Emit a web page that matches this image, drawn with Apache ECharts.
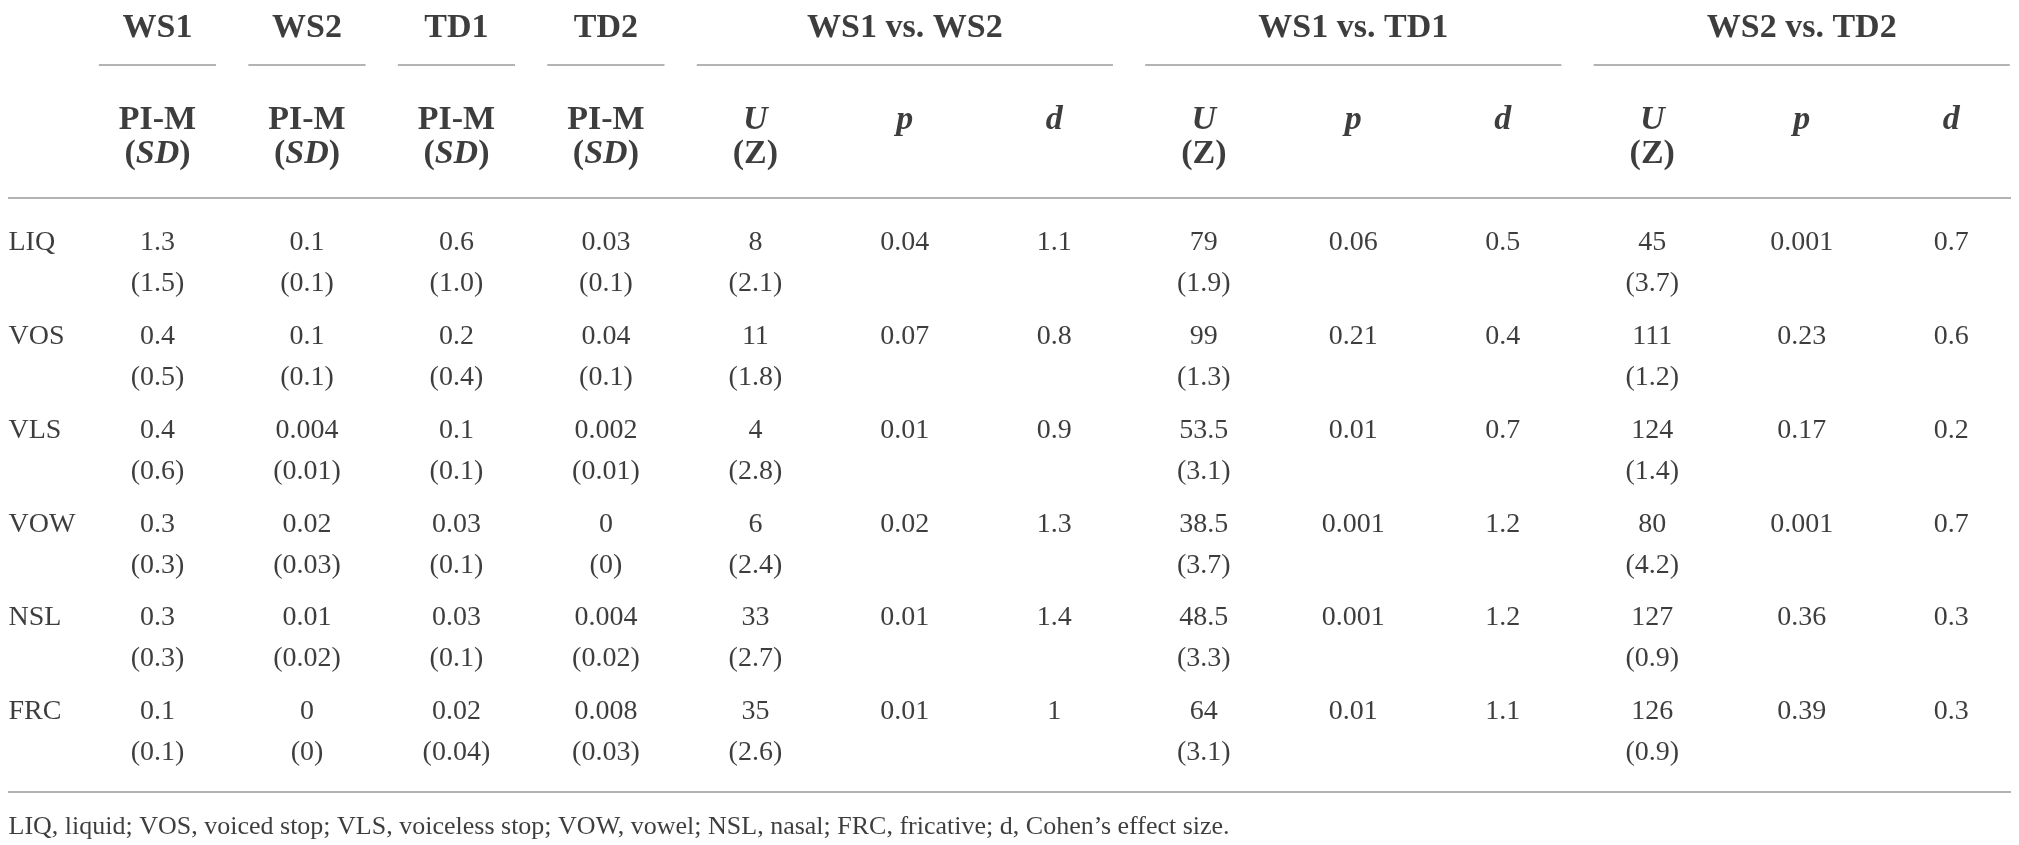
<!DOCTYPE html>
<html>
<head>
<meta charset="utf-8">
<script src="https://cdn.jsdelivr.net/npm/echarts@6/dist/echarts.min.js"></script>
<style>
    html, body { margin: 0; padding: 0; background: #fff; }
    #chart { width: 2019px; height: 845px; }
</style>
</head>
<body>
<div id="chart"></div>
<script>
// table content
const rowLabels = ['LIQ', 'VOS', 'VLS', 'VOW', 'NSL', 'FRC'];
const groupHeads = ['WS1', 'WS2', 'TD1', 'TD2'];
const compareHeads = ['WS1 vs. WS2', 'WS1 vs. TD1', 'WS2 vs. TD2'];

const ws1M = ['1.3', '0.4', '0.4', '0.3', '0.3', '0.1'];
const ws1SD = ['1.5', '0.5', '0.6', '0.3', '0.3', '0.1'];
const ws2M = ['0.1', '0.1', '0.004', '0.02', '0.01', '0'];
const ws2SD = ['0.1', '0.1', '0.01', '0.03', '0.02', '0'];
const td1M = ['0.6', '0.2', '0.1', '0.03', '0.03', '0.02'];
const td1SD = ['1.0', '0.4', '0.1', '0.1', '0.1', '0.04'];
const td2M = ['0.03', '0.04', '0.002', '0', '0.004', '0.008'];
const td2SD = ['0.1', '0.1', '0.01', '0', '0.02', '0.03'];

const ws1ws2U = ['8', '11', '4', '6', '33', '35'];
const ws1ws2Z = ['2.1', '1.8', '2.8', '2.4', '2.7', '2.6'];
const ws1ws2P = ['0.04', '0.07', '0.01', '0.02', '0.01', '0.01'];
const ws1ws2D = ['1.1', '0.8', '0.9', '1.3', '1.4', '1'];

const ws1td1U = ['79', '99', '53.5', '38.5', '48.5', '64'];
const ws1td1Z = ['1.9', '1.3', '3.1', '3.7', '3.3', '3.1'];
const ws1td1P = ['0.06', '0.21', '0.01', '0.001', '0.001', '0.01'];
const ws1td1D = ['0.5', '0.4', '0.7', '1.2', '1.2', '1.1'];

const ws2td2U = ['45', '111', '124', '80', '127', '126'];
const ws2td2Z = ['3.7', '1.2', '1.4', '4.2', '0.9', '0.9'];
const ws2td2P = ['0.001', '0.23', '0.17', '0.001', '0.36', '0.39'];
const ws2td2D = ['0.7', '0.6', '0.2', '0.7', '0.3', '0.3'];

const footnote = 'LIQ, liquid; VOS, voiced stop; VLS, voiceless stop; VOW, vowel; NSL, nasal; FRC, fricative; d, Cohen\u2019s effect size.';

// layout, in row units (one body row = 1)
const Y_HEAD = -2.29;
const Y_UNDER = -1.90;
const Y_SUB1 = -1.31;
const Y_SUB2 = -0.95;
const Y_RULE = -0.48;
const SD_OFF = 0.437;
const Y_BOTTOM = 5.853;
const Y_NOTE = 6.226;
const HALF_UNDER = 0.392;
const X_END = 13.4;

const FONT = '"Liberation Serif", "DejaVu Serif", serif';
const INK = '#0d0d0d';
const RULE = '#9a9a9a';

const groupM = [ws1M, ws2M, td1M, td2M];
const groupSD = [ws1SD, ws2SD, td1SD, td2SD];
const compare = [
    [ws1ws2U, ws1ws2Z, ws1ws2P, ws1ws2D],
    [ws1td1U, ws1td1Z, ws1td1P, ws1td1D],
    [ws2td2U, ws2td2Z, ws2td2P, ws2td2D]
];

const paren = v => `(${v})`;

// cells
const headCells = [];
const bodyCells = [];
const labelCells = [];

groupHeads.forEach((h, i) => {
    const col = i + 1;
    headCells.push([col, Y_HEAD, `{b|${h}}`]);
    headCells.push([col, Y_SUB1, '{b|PI-M}']);
    headCells.push([col, Y_SUB2, '{b|(}{bi|SD}{b|)}']);
});
compareHeads.forEach((h, i) => {
    const base = 5 + i * 3;
    headCells.push([base + 1, Y_HEAD, `{b|${h}}`]);
    headCells.push([base, Y_SUB1, '{bi|U}']);
    headCells.push([base, Y_SUB2, '{b|(Z)}']);
    headCells.push([base + 1, Y_SUB1, '{bi|p}']);
    headCells.push([base + 2, Y_SUB1, '{bi|d}']);
});

rowLabels.forEach((name, r) => {
    labelCells.push([0, r, name]);
    groupM.forEach((arr, i) => {
        bodyCells.push([i + 1, r, arr[r]]);
        bodyCells.push([i + 1, r + SD_OFF, paren(groupSD[i][r])]);
    });
    compare.forEach(([u, z, p, d], i) => {
        const base = 5 + i * 3;
        bodyCells.push([base, r, u[r]]);
        bodyCells.push([base, r + SD_OFF, paren(z[r])]);
        bodyCells.push([base + 1, r, p[r]]);
        bodyCells.push([base + 2, r, d[r]]);
    });
});

// rules
const segments = [];
const seg = (x1, x2, y) => segments.push([{ coord: [x1, y] }, { coord: [x2, y] }]);
groupHeads.forEach((h, i) => seg(i + 1 - HALF_UNDER, i + 1 + HALF_UNDER, Y_UNDER));
compareHeads.forEach((h, i) => {
    const mid = 6 + i * 3;
    seg(mid - 1 - HALF_UNDER, mid + 1 + HALF_UNDER, Y_UNDER);
});
seg(0, X_END, Y_RULE);
seg(0, X_END, Y_BOTTOM);

const textSeries = (name, data, label) => ({
    name,
    type: 'scatter',
    data: data.map(d => ({ value: [d[0], d[1]], text: d[2] })),
    symbolSize: 1,
    itemStyle: { color: 'rgba(0,0,0,0)' },
    clip: false,
    silent: true,
    label: Object.assign({
        show: true,
        color: INK,
        fontFamily: FONT,
        formatter: p => p.data.text
    }, label)
});

const chart = echarts.init(document.getElementById('chart'));
chart.setOption({
    backgroundColor: '#fff',
    animation: false,
    grid: { left: 8, right: 8, top: 0, bottom: 0 },
    xAxis: { type: 'value', min: 0, max: X_END, show: false },
    yAxis: { type: 'value', inverse: true, min: -2.59, max: 6.42, show: false },
    series: [
        textSeries('head', headCells, {
            position: 'inside',
            rich: {
                b: { fontFamily: FONT, fontSize: 34, fontWeight: 'bold', color: INK },
                bi: { fontFamily: FONT, fontSize: 34, fontWeight: 'bold', fontStyle: 'italic', color: INK }
            }
        }),
        textSeries('body', bodyCells, { position: 'inside', fontSize: 28 }),
        textSeries('labels', labelCells, { position: 'right', distance: 0, fontSize: 28 }),
        Object.assign(textSeries('note', [[0, Y_NOTE, footnote]], { position: 'right', distance: 0, fontSize: 26 }), {
            markLine: {
                silent: true,
                symbol: ['none', 'none'],
                label: { show: false },
                lineStyle: { color: RULE, width: 1.5, type: 'solid' },
                data: segments
            }
        })
    ]
});
</script>
</body>
</html>
